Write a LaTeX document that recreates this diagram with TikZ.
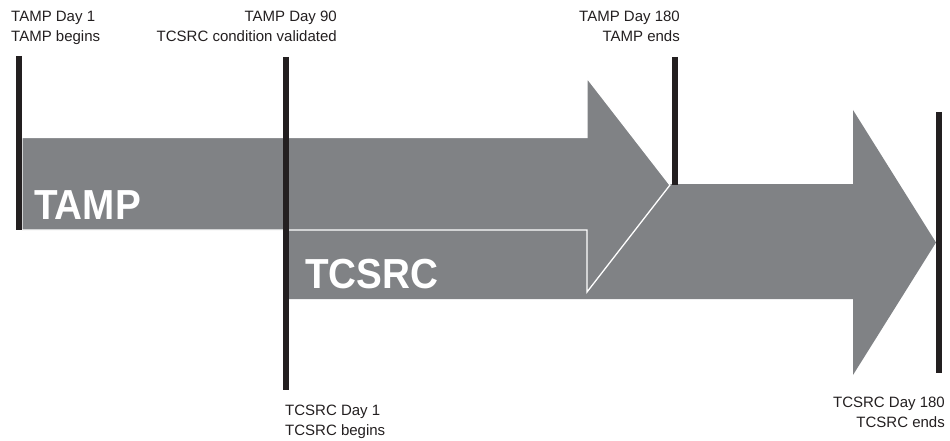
\documentclass[tikz,border=0pt]{standalone}
\usepackage{fontspec}
\setmainfont{Liberation Sans}
\newfontfamily\bigfont{Liberation Sans Bold}[FakeStretch=0.92]
\definecolor{arrowgray}{HTML}{808285}
\definecolor{inkblack}{HTML}{231F20}
\begin{document}
\begin{tikzpicture}[x=1pt,y=-1pt,
  tcsrcshape/.style={fill=arrowgray, draw=none},
  tampshape/.style={fill=arrowgray, draw=white, line width=1.3pt, line join=miter},
  milestone/.style={draw=inkblack, line width=6pt},
  note/.style={inner sep=0pt, text=inkblack, font=\fontsize{15}{19.5}\selectfont},
  bigtag/.style={inner sep=0pt, text=white, font=\bigfont\fontsize{42}{42}\selectfont}]
\useasboundingbox (0,0) rectangle (950,441);

% TCSRC period arrow (behind)
\fill[tcsrcshape] (289,184) -- (853,184) -- (853,110) -- (936,242.5)
  -- (853,375) -- (853,299) -- (289,299) -- cycle;

% TAMP period arrow, outlined in white where it overlaps
\draw[tampshape] (22,137.5) -- (587,137.5) -- (587,78) -- (670,185)
  -- (587,292) -- (587,230) -- (22,230) -- cycle;

% milestone bars
\coordinate (b1t) at (19,56);  \coordinate (b1b) at (19,230);
\coordinate (b2t) at (286,57); \coordinate (b2b) at (286,390);
\coordinate (b3t) at (675,57); \coordinate (b3b) at (675,185);
\coordinate (b4t) at (939,112);\coordinate (b4b) at (939,373);
\draw[milestone] (b1t) -- (b1b);
\draw[milestone] (b2t) -- (b2b);
\draw[milestone] (b3t) -- (b3b);
\draw[milestone] (b4t) -- (b4b);

% period names
\node[bigtag, anchor=base west] (tamp) at (34,219) {TAMP};
\node[bigtag, anchor=base west] (tcsrc) at (305,288) {TCSRC};

% milestone notes
\node[note, anchor=north west, align=left] (d1) at (11,11) {TAMP Day 1\\TAMP begins};
\node[note, anchor=north east, align=right] (d90) at (337,11) {TAMP Day 90\\TCSRC condition validated};
\node[note, anchor=north east, align=right] (d180) at (680,11) {TAMP Day 180\\TAMP ends};
\node[note, anchor=north west, align=left] (c1) at (285,405) {TCSRC Day 1\\TCSRC begins};
\node[note, anchor=north east, align=right] (c180) at (945,397) {TCSRC Day 180\\TCSRC ends};
\end{tikzpicture}
\end{document}
